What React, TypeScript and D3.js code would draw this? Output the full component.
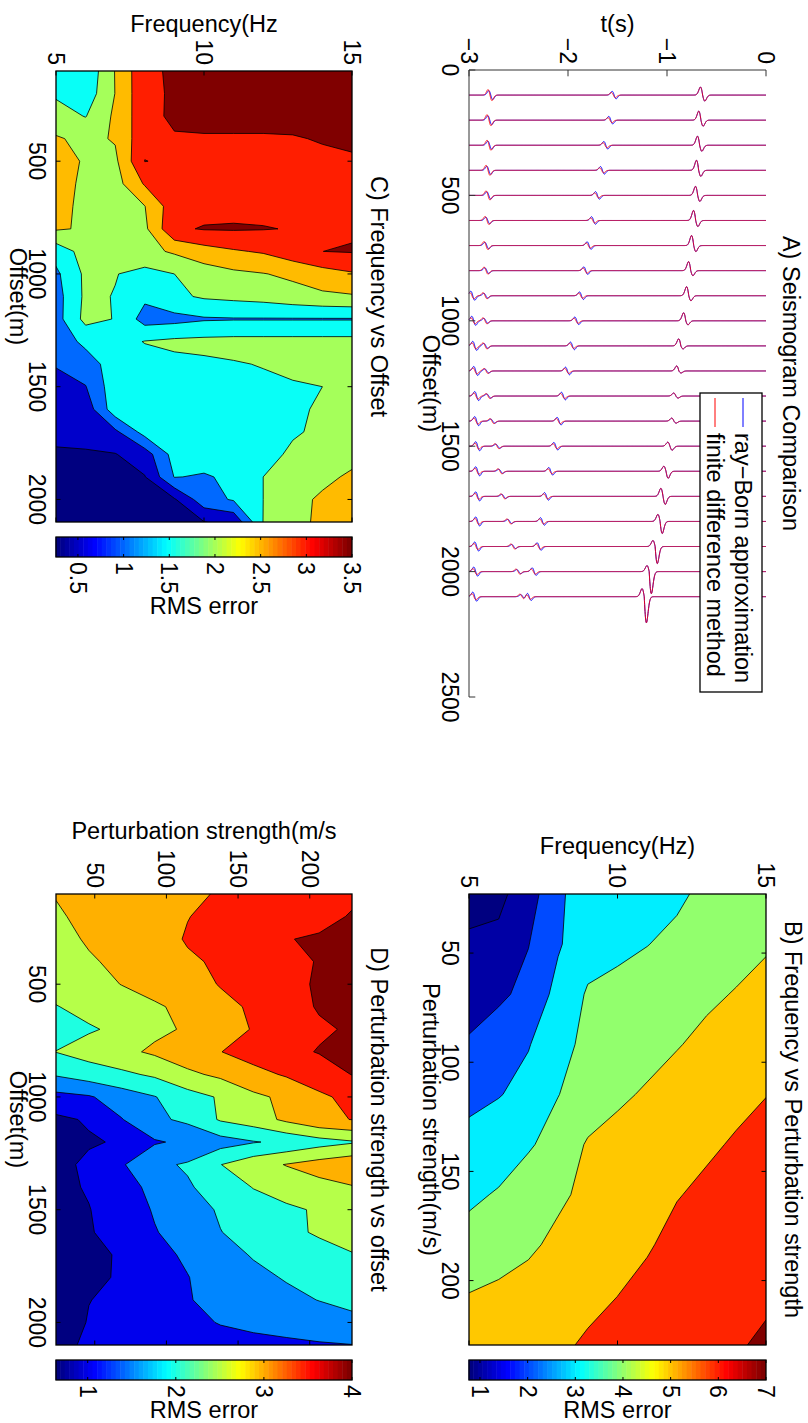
import React from "react";
import * as d3 from "d3";

const FONT = "'Liberation Sans', Arial, Helvetica, sans-serif";
const FS = 23.5;
const TFS = 23;

// ---------------- Panel A: seismogram comparison ----------------
const traceOffsets = [100, 200, 300, 400, 500, 600, 700, 800, 900, 1000, 1100, 1200, 1300, 1400, 1500, 1600, 1700, 1800, 1900, 2000, 2100];
// direct arrival: centre time (s), leading lobe and trailing lobe amplitude (m)
const directTime = [-0.64, -0.657, -0.67, -0.68, -0.69, -0.71, -0.73, -0.76, -0.78, -0.81, -0.86, -0.88, -0.91, -0.93, -0.97, -1.01, -1.04, -1.07, -1.12, -1.18, -1.23];
const directLead = [32, 36, 36, 40, 36, 40, 40, 36, 36, 32, 28, 20, 12, 12, 16, 20, 32, 28, 24, 24, 32];
const directTrail = [24, 24, 24, 24, 24, 24, 24, 20, 20, 16, 12, 8, 8, 8, 16, 28, 32, 48, 68, 88, 104];
// scattered arrival
const scatterTime = [-1.542, -1.576, -1.626, -1.66, -1.71, -1.75, -1.795, -1.828, -1.872, -1.919, -1.963, -2.013, -2.054, -2.098, -2.131, -2.182, -2.225, -2.266, -2.3, -2.35, -2.4];
const scatterAmp = [10, 10, 10, 10, 10, 10, 10, 10, 10, 10, 10, 10, 10, 10, 10, 10, 10, 10, 10, 10, 10];
// deep arrival
const deepTime = [-2.788, -2.798, -2.798, -2.808, -2.808, -2.818, -2.828, -2.828, -2.838, -2.838, -2.838, -2.828, -2.808, -2.768, -2.717, -2.687, -2.657, -2.596, -2.556, -2.505, -2.465];
const deepAmp = [22, 22, 20, 20, 18, 16, 16, 14, 12, 12, 12, 10, 10, 10, 10, 10, 10, 10, 10, 10, 10];
// late arrival near the end of the record (far traces only)
const lateTime = [null, null, null, null, null, null, null, null, -2.97, -2.96, -2.95, -2.94, -2.93, -2.93, -2.92, -2.92, -2.92, -2.92, -2.93, -2.94, -2.95];
const lateAmp = [0, 0, 0, 0, 0, 0, 0, 0, 12, 12, 12, 12, 12, 12, 12, 12, 12, 12, 12, 12, 12];

const offsetTicksA = [0, 500, 1000, 1500, 2000, 2500];
const timeTicksA = [-3, -2, -1, 0];

// ---------------- Contour panels ----------------
const offsetGrid = [100, 200, 300, 400, 500, 600, 700, 800, 900, 1000, 1100, 1200, 1300, 1400, 1500, 1600, 1700, 1800, 1900, 2000, 2100];
const freqGrid = [5, 6, 7, 8, 9, 10, 11, 12, 13, 14, 15];
const pertGrid = [22.95, 45.9, 68.85, 91.8, 114.75, 137.7, 160.65, 183.6, 206.55, 229.5];

// B) RMS error: rows = perturbation strength, columns = frequency
const rmsFreqPert = [
  [0.77, 0.8, 1.45, 2.98, 3.06, 3.3, 3.6, 3.85, 4.2, 4.5, 4.75],
  [1.1, 1.2, 1.97, 2.9, 3.6, 3.8, 3.98, 4.2, 4.45, 4.7, 4.9],
  [1.6, 1.8, 2.3, 3.3, 4.1, 4.25, 4.4, 4.6, 4.85, 5.05, 5.3],
  [2.1, 2.6, 2.95, 3.6, 4.3, 4.5, 4.7, 4.95, 5.2, 5.4, 5.6],
  [2.75, 2.95, 3.3, 3.98, 4.4, 4.85, 5.1, 5.35, 5.55, 5.75, 5.98],
  [3.3, 3.6, 3.9, 4.35, 5.1, 5.3, 5.45, 5.65, 5.85, 6.1, 6.3],
  [3.85, 4.07, 4.5, 4.85, 5.2, 5.5, 5.75, 5.95, 6.2, 6.4, 6.6],
  [4.3, 4.55, 4.85, 5.2, 5.45, 5.7, 5.9, 6.3, 6.5, 6.7, 6.85],
  [5.03, 5.2, 5.35, 5.5, 5.7, 5.99, 6.3, 6.5, 6.65, 6.8, 6.95],
  [5.5, 5.6, 5.7, 5.8, 6.15, 6.35, 6.5, 6.65, 6.8, 6.97, 7.05],
];

// C) RMS error: rows = offset, columns = frequency
const rmsFreqOffset = [
  [1.6, 1.6, 2.52, 3.38, 3.58, 3.6, 3.6, 3.6, 3.6, 3.6, 3.6],
  [1.93, 1.7, 2.51, 3.38, 3.56, 3.6, 3.6, 3.6, 3.6, 3.6, 3.6],
  [2.2, 1.98, 2.59, 3.32, 3.6, 3.6, 3.6, 3.6, 3.6, 3.6, 3.6],
  [2.55, 2.38, 2.54, 3.36, 3.45, 3.47, 3.47, 3.47, 3.48, 3.52, 3.56],
  [2.62, 2.47, 2.4, 3.51, 3.42, 3.4, 3.4, 3.4, 3.42, 3.44, 3.46],
  [2.6, 2.45, 2.3, 3.05, 3.3, 3.35, 3.4, 3.4, 3.4, 3.4, 3.4],
  [2.58, 2.44, 2.3, 2.49, 3.3, 3.35, 3.38, 3.38, 3.38, 3.4, 3.42],
  [2.55, 2.45, 2.3, 2.4, 3.43, 3.53, 3.54, 3.52, 3.48, 3.45, 3.45],
  [1.7, 2.2, 2.3, 2.35, 2.57, 2.8, 2.95, 3.05, 3.3, 3.499, 3.53],
  [1.4, 2.1, 2.02, 1.85, 2.0, 2.25, 2.4, 2.48, 2.6, 2.8, 2.95],
  [1.3, 2.1, 1.98, 1.6, 1.9, 2.06, 2.12, 2.18, 2.3, 2.4, 2.45],
  [1.3, 2.15, 1.98, 1.3, 1.35, 1.45, 1.47, 1.47, 1.47, 1.47, 1.47],
  [1.25, 1.6, 1.8, 2.02, 2.1, 2.13, 2.15, 2.15, 2.15, 2.15, 2.15],
  [1.03, 1.3, 1.7, 1.8, 1.88, 1.92, 1.97, 2.02, 2.1, 2.15, 2.2],
  [0.85, 0.98, 1.8, 1.82, 1.85, 1.86, 1.88, 1.92, 1.96, 2.0, 2.15],
  [0.72, 0.7, 1.8, 1.8, 1.85, 1.88, 1.9, 1.92, 1.96, 2.03, 2.15],
  [0.6, 0.6, 0.9, 1.7, 1.78, 1.82, 1.86, 1.9, 1.97, 2.05, 2.15],
  [0.45, 0.47, 0.48, 0.75, 1.7, 1.75, 1.8, 1.9, 2.05, 2.15, 2.3],
  [0.35, 0.38, 0.4, 0.48, 1.52, 1.45, 1.6, 2.0, 2.2, 2.35, 2.6],
  [0.3, 0.3, 0.32, 0.35, 0.45, 1.3, 1.55, 2.0, 2.3, 2.6, 2.8],
  [0.26, 0.28, 0.3, 0.35, 0.42, 0.49, 0.6, 2.01, 2.35, 2.6, 2.8],
];

// D) RMS error: rows = offset, columns = perturbation strength
const rmsPertOffset = [
  [3.02, 3.12, 3.22, 3.32, 3.42, 3.535, 3.65, 3.75, 3.85, 3.95],
  [2.95, 3.1, 3.25, 3.38, 3.49, 3.6, 3.7, 3.8, 3.92, 4.02],
  [2.85, 3.05, 3.2, 3.35, 3.53, 3.65, 3.8, 3.99, 4.03, 4.03],
  [2.75, 2.95, 3.1, 3.3, 3.45, 3.55, 3.7, 3.9, 4.02, 4.04],
  [2.7, 2.85, 3.01, 3.15, 3.35, 3.52, 3.7, 3.9, 4.04, 4.04],
  [2.48, 2.65, 2.8, 2.95, 3.1, 3.4, 3.55, 3.85, 4.03, 4.05],
  [2.3, 2.45, 2.6, 2.9, 3.05, 3.35, 3.52, 3.75, 3.95, 4.04],
  [2.51, 2.7, 2.88, 3.08, 3.3, 3.49, 3.7, 3.9, 4.02, 4.04],
  [2.05, 2.25, 2.4, 2.58, 2.9, 3.1, 3.35, 3.55, 3.8, 4.01],
  [1.35, 1.45, 1.75, 1.98, 2.3, 2.55, 2.9, 3.1, 3.4, 3.65],
  [0.9, 1.05, 1.48, 1.9, 2.1, 2.55, 2.75, 3.1, 3.4, 3.51],
  [0.8, 0.95, 1.05, 1.45, 1.6, 1.8, 1.97, 2.1, 2.3, 2.45],
  [0.85, 1.1, 1.45, 1.9, 2.05, 2.49, 2.8, 3.02, 3.2, 3.35],
  [0.85, 1.05, 1.35, 1.6, 1.95, 2.2, 2.52, 2.7, 2.85, 2.97],
  [0.8, 0.98, 1.3, 1.53, 1.8, 2.05, 2.25, 2.42, 2.55, 2.7],
  [0.78, 0.95, 1.25, 1.48, 1.65, 1.99, 2.15, 2.4, 2.55, 2.65],
  [0.75, 0.93, 1.03, 1.4, 1.55, 1.85, 2.03, 2.2, 2.35, 2.48],
  [0.7, 0.9, 1.05, 1.3, 1.49, 1.65, 1.9, 2.03, 2.2, 2.35],
  [0.7, 0.99, 1.1, 1.3, 1.48, 1.6, 1.75, 1.9, 2.01, 2.1],
  [0.7, 1.03, 1.15, 1.28, 1.4, 1.52, 1.6, 1.7, 1.8, 1.9],
  [0.64, 1.2, 1.25, 1.3, 1.32, 1.35, 1.38, 1.4, 1.45, 1.49],
];

const levelsB = [1, 2, 3, 4, 5, 6, 7];
const levelsC = [0.5, 1, 1.5, 2, 2.5, 3, 3.5];
const levelsD = [1, 1.5, 2, 2.5, 3, 3.5, 4];
const climB = [0.77, 7.0];
const climC = [0.26, 3.5];
const climD = [0.64, 4.0];
const cbarTicksB = [1, 2, 3, 4, 5, 6, 7];
const cbarTicksC = [0.5, 1, 1.5, 2, 2.5, 3, 3.5];
const cbarTicksD = [1, 2, 3, 4];
const freqTicks = [5, 10, 15];
const pertTicks = [50, 100, 150, 200];
const offsetTicks = [500, 1000, 1500, 2000];

// MATLAB-style jet colormap
function jet(t: number): string {
  const c = (v: number) => Math.round(255 * Math.max(0, Math.min(1, v)));
  return `rgb(${c(1.5 - Math.abs(4 * t - 3))},${c(1.5 - Math.abs(4 * t - 2))},${c(1.5 - Math.abs(4 * t - 1))})`;
}

const fmt = (v: number) => (v < 0 ? "\u2212" + String(-v) : String(v));

function contourPaths(grid: number[][], xs: number[], ys: number[], levels: number[], sx: any, sy: any) {
  const nx = xs.length, ny = ys.length;
  const values: number[] = [];
  for (let j = 0; j < ny; j++) for (let i = 0; i < nx; i++) values.push(grid[i][j]);
  const dx = xs[1] - xs[0], dy = ys[1] - ys[0];
  const gx = (c: number) => sx(xs[0] + (c - 0.5) * dx);
  const gy = (c: number) => sy(ys[0] + (c - 0.5) * dy);
  return d3.contours().size([nx, ny]).thresholds(levels)(values).map((mp: any) => ({
    value: mp.value,
    d: mp.coordinates
      .map((poly: any) => poly.map((ring: any) => "M" + ring.map((p: number[]) => `${gx(p[0]).toFixed(2)},${gy(p[1]).toFixed(2)}`).join("L") + "Z").join(""))
      .join(""),
  }));
}

type Box = { left: number; right: number; top: number; bottom: number };

function ContourPanel(props: {
  id: string; box: Box; grid: number[][]; xs: number[]; ys: number[]; levels: number[]; clim: number[];
  xDomain: number[]; yDomain: number[]; xTicks: number[]; yTicks: number[];
  title: string; xLabel: string; yLabel: string; yLabelX: number;
  cbar: { left: number; right: number; ticks: number[]; labelX: number };
}) {
  const { id, box, grid, xs, ys, levels, clim, xDomain, yDomain, xTicks, yTicks, title, xLabel, yLabel, yLabelX, cbar } = props;
  const sx = d3.scaleLinear().domain(xDomain).range([box.left, box.right]);
  const sy = d3.scaleLinear().domain(yDomain).range([box.bottom, box.top]);
  const norm = (v: number) => (v - clim[0]) / (clim[1] - clim[0]);
  const bands = contourPaths(grid, xs, ys, levels, sx, sy);
  const tl = 4.5;
  const cy = d3.scaleLinear().domain(clim).range([box.bottom, box.top]);
  const steps = d3.range(64);
  const w = box.right - box.left, h = box.bottom - box.top;
  const cx = (box.left + box.right) / 2, cyMid = (box.top + box.bottom) / 2;
  return (
    <g>
      <defs>
        <clipPath id={id}>
          <rect x={box.left} y={box.top} width={w} height={h} />
        </clipPath>
      </defs>
      <g clipPath={`url(#${id})`}>
        <rect x={box.left} y={box.top} width={w} height={h} fill={jet(0)} />
        {bands.map((b: any, i: number) => (
          <path key={i} d={b.d} fill={jet(norm(b.value))} fillRule="evenodd" stroke="#000" strokeWidth={0.8} strokeLinejoin="round" />
        ))}
      </g>
      <rect x={box.left} y={box.top} width={w} height={h} fill="none" stroke="#000" strokeWidth={1.3} />
      {xTicks.map((t) => (
        <g key={"x" + t}>
          <line x1={sx(t)} x2={sx(t)} y1={box.bottom} y2={box.bottom - tl} stroke="#000" strokeWidth={1} />
          <line x1={sx(t)} x2={sx(t)} y1={box.top} y2={box.top + tl} stroke="#000" strokeWidth={1} />
          <text x={sx(t)} y={box.bottom + 27} textAnchor="middle" fontSize={TFS}>{fmt(t)}</text>
        </g>
      ))}
      {yTicks.map((t) => (
        <g key={"y" + t}>
          <line x1={box.left} x2={box.left + tl} y1={sy(t)} y2={sy(t)} stroke="#000" strokeWidth={1} />
          <line x1={box.right} x2={box.right - tl} y1={sy(t)} y2={sy(t)} stroke="#000" strokeWidth={1} />
          <text x={box.left - 6} y={sy(t)} dy="0.35em" textAnchor="end" fontSize={TFS}>{fmt(t)}</text>
        </g>
      ))}
      <text x={cx} y={box.top - 19} textAnchor="middle" fontSize={FS}>{title}</text>
      <text x={cx} y={box.bottom + 46} textAnchor="middle" fontSize={FS}>{xLabel}</text>
      <text transform={`translate(${yLabelX},${cyMid}) rotate(-90)`} textAnchor="middle" fontSize={FS}>{yLabel}</text>
      {/* colorbar */}
      {steps.map((k) => {
        const v0 = clim[0] + (k / 64) * (clim[1] - clim[0]);
        const v1 = clim[0] + ((k + 1) / 64) * (clim[1] - clim[0]);
        return <rect key={k} x={cbar.left} y={cy(v1)} width={cbar.right - cbar.left} height={cy(v0) - cy(v1) + 0.5} fill={jet(k / 63)} />;
      })}
      <rect x={cbar.left} y={box.top} width={cbar.right - cbar.left} height={h} fill="none" stroke="#000" strokeWidth={1.3} />
      {cbar.ticks.map((t) => (
        <g key={"c" + t}>
          <line x1={cbar.left} x2={cbar.left + 3} y1={cy(t)} y2={cy(t)} stroke="#000" strokeWidth={1} />
          <line x1={cbar.right} x2={cbar.right - 3} y1={cy(t)} y2={cy(t)} stroke="#000" strokeWidth={1} />
          <text x={cbar.right + 5} y={cy(t)} dy="0.35em" fontSize={TFS}>{fmt(t)}</text>
        </g>
      ))}
      <text transform={`translate(${cbar.labelX},${cyMid}) rotate(-90)`} textAnchor="middle" fontSize={FS}>RMS error</text>
    </g>
  );
}

const wavelet = (u: number) => u * Math.exp(0.5 - (u * u) / 2);

function SeismogramPanel() {
  const box = { left: 70, right: 697, top: 42, bottom: 339 };
  const sx = d3.scaleLinear().domain([0, 2500]).range([box.left, box.right]);
  const sy = d3.scaleLinear().domain([-3, 0]).range([box.bottom, box.top]);
  const times = d3.range(-3, 0.0005, 0.002);
  const sigma = 0.022, sigmaSmall = 0.02;

  const trace = (i: number, born: boolean) => {
    const k = born ? 1.5 : 1;
    const sh = born ? 0.008 : 0;
    return times.map((t) => {
      let x = traceOffsets[i];
      const u = (t - directTime[i]) / sigma;
      x += (u < 0 ? directLead[i] : directTrail[i]) * wavelet(u);
      x += k * scatterAmp[i] * wavelet((t - scatterTime[i] - sh) / sigmaSmall);
      x += (born ? 0.8 : 1) * deepAmp[i] * wavelet((t - deepTime[i] - sh) / sigmaSmall);
      const lt = lateTime[i];
      if (lt !== null) x += k * lateAmp[i] * wavelet((t - (lt as number) - sh) / sigmaSmall);
      return [x, t];
    });
  };
  const line = d3.line<number[]>().x((d) => sx(d[0])).y((d) => sy(d[1]));
  const tl = 6.3;
  return (
    <g>
      {traceOffsets.map((_, i) => (
        <path key={"b" + i} d={line(trace(i, true)) as string} fill="none" stroke="#0000ff" strokeWidth={1} />
      ))}
      {traceOffsets.map((_, i) => (
        <path key={"r" + i} d={line(trace(i, false)) as string} fill="none" stroke="#ff0000" strokeWidth={1} strokeOpacity={0.85} />
      ))}
      <line x1={box.left} x2={box.left} y1={box.top} y2={box.bottom} stroke="#333" strokeWidth={1} />
      <line x1={box.left} x2={box.right} y1={box.bottom} y2={box.bottom} stroke="#333" strokeWidth={1} />
      {offsetTicksA.map((t) => (
        <g key={"x" + t}>
          <line x1={sx(t)} x2={sx(t)} y1={box.bottom} y2={box.bottom - tl} stroke="#333" strokeWidth={1} />
          <text x={sx(t)} y={box.bottom + 27} textAnchor="middle" fontSize={TFS}>{fmt(t)}</text>
        </g>
      ))}
      {timeTicksA.map((t) => (
        <g key={"y" + t}>
          <line x1={box.left} x2={box.left + tl} y1={sy(t)} y2={sy(t)} stroke="#333" strokeWidth={1} />
          <text x={box.left - 6} y={sy(t)} dy="0.35em" textAnchor="end" fontSize={TFS}>{fmt(t)}</text>
        </g>
      ))}
      <text x={(box.left + box.right) / 2} y={25} textAnchor="middle" fontSize={FS}>A) Seismogram Comparison</text>
      <text x={(box.left + box.right) / 2} y={box.bottom + 46} textAnchor="middle" fontSize={FS}>Offset(m)</text>
      <text transform={`translate(31.5,${(box.top + box.bottom) / 2}) rotate(-90)`} textAnchor="middle" fontSize={FS}>t(s)</text>
      {/* legend */}
      <rect x={393} y={46} width={299} height={62} fill="#fff" stroke="#000" strokeWidth={1.3} />
      <line x1={398} x2={427} y1={65} y2={65} stroke="#0000ff" strokeWidth={1} />
      <text x={433} y={65} dy="0.33em" fontSize={FS}>ray{"\u2212"}Born approximation</text>
      <line x1={398} x2={427} y1={93} y2={93} stroke="#ff0000" strokeWidth={1} />
      <text x={433} y={93} dy="0.33em" fontSize={FS}>finite difference method</text>
    </g>
  );
}

export default function App() {
  return (
    <div style={{ position: "absolute", left: 0, top: 0, width: 808, height: 1423, background: "#fff" }}>
      <svg width={808} height={1423} style={{ display: "block", fontFamily: FONT }}>
        <rect width={808} height={1423} fill="#fff" />
        <g transform="translate(808,0) rotate(90)">
          <SeismogramPanel />
          <ContourPanel
            id="clipB"
            box={{ left: 894, right: 1345, top: 42, bottom: 339 }}
            grid={rmsFreqPert}
            xs={pertGrid}
            ys={freqGrid}
            levels={levelsB}
            clim={climB}
            xDomain={[22.95, 229.5]}
            yDomain={[5, 15]}
            xTicks={pertTicks}
            yTicks={freqTicks}
            title="B) Frequency vs Perturbation strength"
            xLabel="Perturbation strength(m/s)"
            yLabel="Frequency(Hz)"
            yLabelX={854}
            cbar={{ left: 1360, right: 1380, ticks: cbarTicksB, labelX: 1418 }}
          />
          <ContourPanel
            id="clipC"
            box={{ left: 71, right: 522, top: 456, bottom: 752 }}
            grid={rmsFreqOffset}
            xs={offsetGrid}
            ys={freqGrid}
            levels={levelsC}
            clim={climC}
            xDomain={[100, 2100]}
            yDomain={[5, 15]}
            xTicks={offsetTicks}
            yTicks={freqTicks}
            title="C) Frequency vs Offset"
            xLabel="Offset(m)"
            yLabel="Frequency(Hz"
            yLabelX={32}
            cbar={{ left: 537, right: 557, ticks: cbarTicksC, labelX: 614 }}
          />
          <ContourPanel
            id="clipD"
            box={{ left: 894, right: 1345, top: 456, bottom: 752 }}
            grid={rmsPertOffset}
            xs={offsetGrid}
            ys={pertGrid}
            levels={levelsD}
            clim={climD}
            xDomain={[100, 2100]}
            yDomain={[22.95, 229.5]}
            xTicks={offsetTicks}
            yTicks={pertTicks}
            title="D) Perturbation strength vs offset"
            xLabel="Offset(m)"
            yLabel="Perturbation strength(m/s"
            yLabelX={839}
            cbar={{ left: 1360, right: 1380, ticks: cbarTicksD, labelX: 1418 }}
          />
        </g>
      </svg>
    </div>
  );
}
